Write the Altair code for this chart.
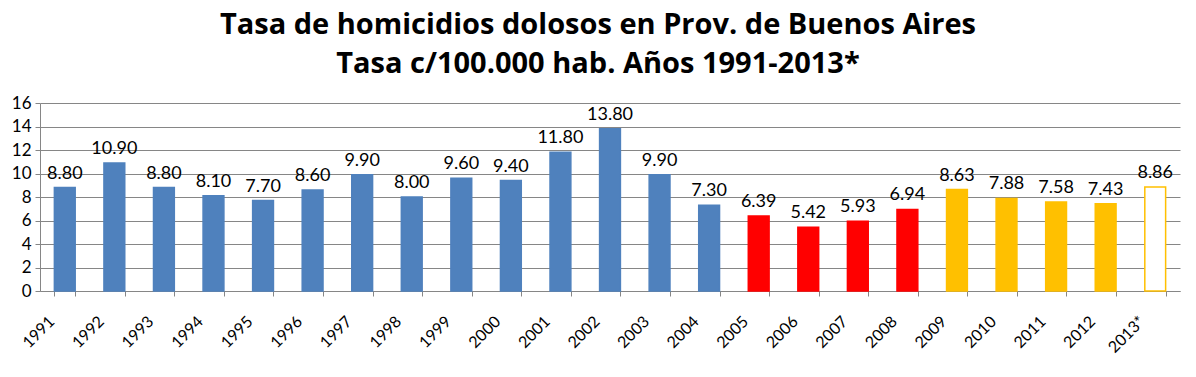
import altair as alt
import pandas as pd

years = ["1991","1992","1993","1994","1995","1996","1997","1998","1999","2000",
         "2001","2002","2003","2004","2005","2006","2007","2008","2009","2010",
         "2011","2012","2013*"]
rates = [8.80,10.90,8.80,8.10,7.70,8.60,9.90,8.00,9.60,9.40,
         11.80,13.80,9.90,7.30,6.39,5.42,5.93,6.94,8.63,7.88,
         7.58,7.43,8.86]
groups = ["a"]*14 + ["b"]*4 + ["c"]*4 + ["d"]
fills = {"a": "#4F81BD", "b": "#FF0000", "c": "#FFC000", "d": "#FFFFFF"}
strokes = {"a": "#4F81BD", "b": "#FF0000", "c": "#FFC000", "d": "#FFC000"}
yticks = [0, 2, 4, 6, 8, 10, 12, 14, 16]

df = pd.DataFrame({"year": years, "rate": rates, "grp": groups})
df["fill"] = df["grp"].map(fills)
df["stroke"] = df["grp"].map(strokes)
df["label"] = df["rate"].map(lambda v: f"{v:.2f}")

FONT = "Lato"

x = alt.X("year:N", sort=years, title=None,
          scale=alt.Scale(paddingInner=0.58, paddingOuter=0.29),
          axis=alt.Axis(labelAngle=-45, labelFontSize=16, labelFont=FONT,
                        labelColor="#000000", tickBand="extent", tickSize=5,
                        tickColor="#868686", domainColor="#868686",
                        labelPadding=17, labelOffset=-19, grid=False))
y = alt.Y("rate:Q", title=None,
          scale=alt.Scale(domain=[0, 16]),
          axis=alt.Axis(values=yticks, labelFontSize=17, labelOverlap=False,
                        labelFont=FONT, labelColor="#000000", tickSize=5,
                        tickColor="#868686", domainColor="#868686",
                        gridColor="#868686", gridWidth=1, labelPadding=4))

base = alt.Chart(df)
bars = base.mark_bar(strokeWidth=1.5).encode(
    x=x, y=y,
    fill=alt.Fill("fill:N", scale=None),
    stroke=alt.Stroke("stroke:N", scale=None),
)
text = base.mark_text(baseline="bottom", dy=-5, fontSize=18, font=FONT,
                      color="#000000").encode(
    x=x, y=y, text="label:N")

chart = (bars + text).properties(
    width=1140, height=188,
    title=alt.Title(["Tasa de homicidios dolosos en Prov. de Buenos Aires",
                     "Tasa c/100.000 hab. Años 1991-2013*"],
                    fontSize=29, font="Open Sans", fontWeight="bold", color="#000000",
                    lineHeight=39, offset=15, dx=-12, anchor="middle"),
    autosize=alt.AutoSizeParams(type="none"),
    padding={"left": 40, "top": 103, "right": 16, "bottom": 86},
).configure_view(stroke=None)

chart.save("out.html", embed_options={"renderer": "svg", "actions": False})
